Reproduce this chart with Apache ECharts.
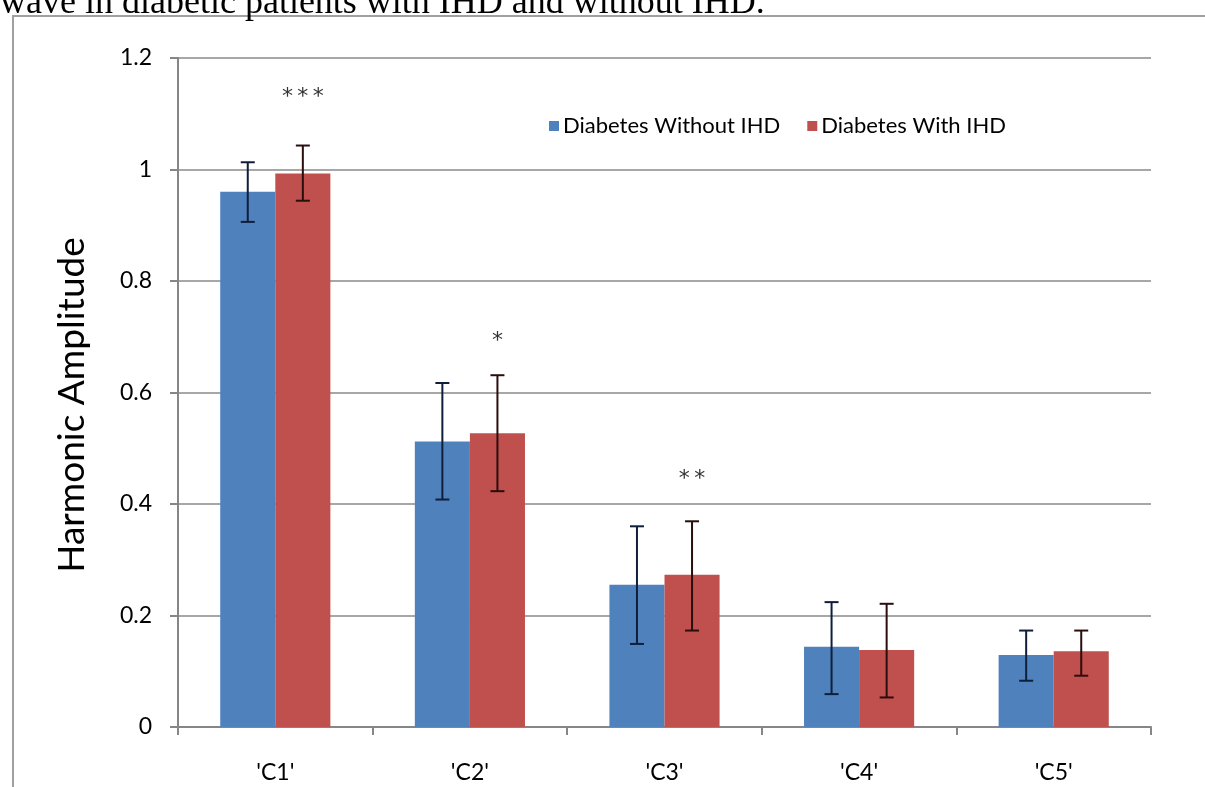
<!DOCTYPE html>
<html>
<head>
<meta charset="utf-8">
<script src="https://cdn.jsdelivr.net/npm/echarts@6/dist/echarts.min.js"></script>
<style>html,body{margin:0;padding:0;background:#fff}#c{width:1205px;height:787px}</style>
</head>
<body>
<div id="c"></div>
<script>
const categories = ["'C1'", "'C2'", "'C3'", "'C4'", "'C5'"];
const seriesNames = ["Diabetes Without IHD", "Diabetes With IHD"];
const withoutIHD = [0.960, 0.512, 0.255, 0.144, 0.129];
const withoutIHDLow = [0.906, 0.408, 0.149, 0.059, 0.083];
const withoutIHDHigh = [1.013, 0.617, 0.360, 0.224, 0.173];
const withIHD = [0.993, 0.527, 0.273, 0.138, 0.136];
const withIHDLow = [0.944, 0.423, 0.173, 0.053, 0.092];
const withIHDHigh = [1.043, 0.631, 0.369, 0.221, 0.173];
const yTicks = [0, 0.2, 0.4, 0.6, 0.8, 1, 1.2];
const significance = [[0, 1.130, '***'], [1, 0.691, '*'], [2, 0.445, '**']];
const captionText = 'wave in diabetic patients with IHD and without IHD.';

const FONT = 'Lato, "Open Sans", sans-serif';
const BAR_W = 0.283;

function errSeries(name, lows, highs, side, color) {
  return {
    type: 'custom',
    name: name + ' error',
    z: 5,
    data: categories.map((c, i) => [i, lows[i], highs[i]]),
    renderItem: function (params, api) {
      const i = api.value(0);
      const band = api.size([1, 0])[0];
      const off = side * band * BAR_W / 2;
      const lo = api.coord([i, api.value(1)]);
      const hi = api.coord([i, api.value(2)]);
      const x = lo[0] + off;
      const cap = 7;
      const st = { stroke: color, lineWidth: 2 };
      return {
        type: 'group',
        children: [
          { type: 'line', shape: { x1: x, y1: hi[1], x2: x, y2: lo[1] }, style: st },
          { type: 'line', shape: { x1: x - cap, y1: hi[1], x2: x + cap, y2: hi[1] }, style: st },
          { type: 'line', shape: { x1: x - cap, y1: lo[1], x2: x + cap, y2: lo[1] }, style: st }
        ]
      };
    },
    encode: { x: 0, y: [1, 2] },
    tooltip: { show: false }
  };
}

const chart = echarts.init(document.getElementById('c'), null, { renderer: 'canvas' });
chart.setOption({
  backgroundColor: '#fff',
  animation: false,
  grid: { left: 178, right: 54, top: 58, bottom: 60 },
  legend: {
    data: seriesNames,
    left: 544, top: 110,
    itemWidth: 10, itemHeight: 10, itemGap: 27,
    icon: 'rect',
    textStyle: { fontFamily: FONT, fontSize: 22, color: '#000', padding: [0, 0, 0, -1] }
  },
  xAxis: {
    type: 'category',
    data: categories,
    axisLine: { lineStyle: { color: '#868686', width: 2 } },
    axisTick: { show: true, length: 8, lineStyle: { color: '#868686', width: 2 } },
    axisLabel: { fontFamily: FONT, fontSize: 23, color: '#000', margin: 34 }
  },
  yAxis: {
    type: 'value',
    min: 0, max: 1.2, interval: 0.2,
    axisLine: { show: true, lineStyle: { color: '#868686', width: 2 } },
    axisTick: { show: true, length: 8, lineStyle: { color: '#868686', width: 2 } },
    splitLine: { lineStyle: { color: '#8a8a8a', width: 1.5 } },
    axisLabel: { fontFamily: FONT, fontSize: 23, color: '#000', margin: 26,
      formatter: v => String(yTicks.find(t => Math.abs(t - v) < 1e-9) ?? v) }
  },
  graphic: [
    { type: 'rect', shape: { x: 13, y: 16, width: 1400, height: 1000 },
      style: { fill: 'none', stroke: '#a0a0a0', lineWidth: 2 }, z: 0 },
    { type: 'text', x: 0, y: 22, style: { text: captionText, fontFamily: '"Liberation Serif", "Times New Roman", serif',
      fontSize: 36, fill: '#000', textVerticalAlign: 'bottom' } },
    { type: 'text', x: 72, y: 405, rotation: Math.PI / 2,
      style: { text: 'Harmonic Amplitude', fontFamily: FONT, fontSize: 37, fill: '#000',
        textAlign: 'center', textVerticalAlign: 'middle' } }
  ],
  series: [
    { type: 'bar', name: seriesNames[0], data: withoutIHD, barWidth: (BAR_W * 100) + '%', barGap: '0%',
      itemStyle: { color: '#4F81BD' } },
    { type: 'bar', name: seriesNames[1], data: withIHD, barWidth: (BAR_W * 100) + '%', barGap: '0%',
      itemStyle: { color: '#C0504D' },
      markPoint: {
        symbol: 'rect', symbolSize: 1, itemStyle: { color: 'transparent' },
        label: { show: true, position: 'inside', fontFamily: '"DejaVu Sans", sans-serif', fontSize: 22, color: '#333',
          formatter: p => p.name.split('').join('\u2009') },
        data: significance.map(s => ({ name: s[2], coord: [s[0], s[1]] }))
      } },
    errSeries(seriesNames[0], withoutIHDLow, withoutIHDHigh, -1, '#0f1f3a'),
    errSeries(seriesNames[1], withIHDLow, withIHDHigh, 1, '#2a0d0d')
  ]
});
</script>
</body>
</html>
